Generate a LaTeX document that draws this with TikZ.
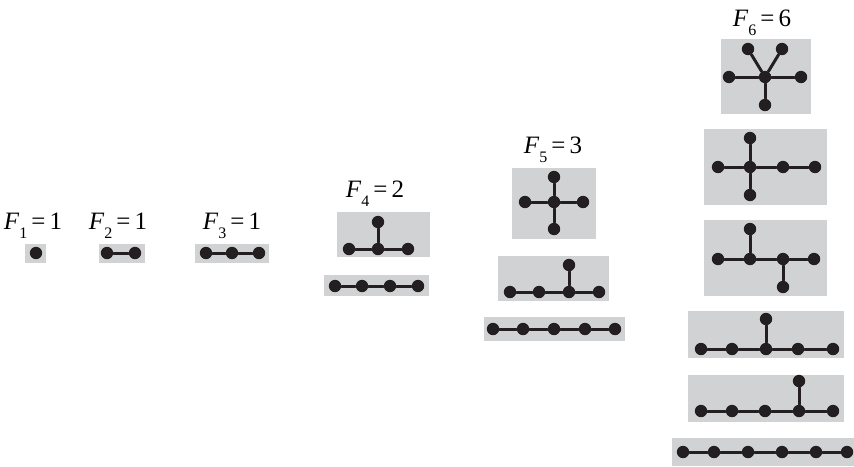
\documentclass[tikz,border=0pt]{standalone}
\usepackage{fontspec}
\setmainfont{Liberation Serif}
\definecolor{ink}{HTML}{231F20}
\definecolor{tilegray}{HTML}{D1D2D4}
\newcommand{\countlab}[2]{\textit{F}\raisebox{-0.8ex}{\fontsize{8}{8}\selectfont #1}\,=\,#2}

\begin{document}
\begin{tikzpicture}[
  x=0.5pt, y=-0.5pt,
  every path/.style={line cap=round},
  vtx/.style={circle, fill=ink, inner sep=0pt, minimum size=6.2pt},
  tile/.style={fill=tilegray},
  edge/.style={ink, line width=1.5pt},
  flab/.style={anchor=base, inner sep=0pt, font=\fontsize{12.5}{14}\selectfont},
]
\useasboundingbox (0,0) rectangle (854,466);

% ---------- labels ----------
\node[flab] (l1) at (33,229)  {\countlab{1}{1}};
\node[flab] (l2) at (118,229) {\countlab{2}{1}};
\node[flab] (l3) at (232,229) {\countlab{3}{1}};
\node[flab] (l4) at (375,197) {\countlab{4}{2}};
\node[flab] (l5) at (553,153) {\countlab{5}{3}};
\node[flab] (l6) at (762,26)  {\countlab{6}{6}};

% ---------- tiles ----------
\fill[tile] (25,244) rectangle (46,263);
\fill[tile] (99,244) rectangle (145,263);
\fill[tile] (195,244) rectangle (269,263);
\fill[tile] (337,212) rectangle (430,257);
\fill[tile] (324,275) rectangle (429,296);
\fill[tile] (512,168) rectangle (596,239);
\fill[tile] (498,256) rectangle (609,301);
\fill[tile] (484,317) rectangle (625,341);
\fill[tile] (721,39) rectangle (811,114);
\fill[tile] (704,129) rectangle (827,205);
\fill[tile] (704,220) rectangle (827,296);
\fill[tile] (688,311) rectangle (844,358);
\fill[tile] (688,375) rectangle (844,422);
\fill[tile] (672,438) rectangle (854,466);

% ---------- n = 1, 2, 3 ----------
\node[vtx] (v1a1) at (36,253) {};
\foreach \x [count=\i] in {107,135}
  \node[vtx] (v2a\i) at (\x,253) {};
\foreach \x [count=\i] in {206,232,259}
  \node[vtx] (v3a\i) at (\x,253) {};

% ---------- n = 4 ----------
\foreach \x [count=\i] in {349,378,408}
  \node[vtx] (v4a\i) at (\x,249) {};
\node[vtx] (v4a4) at (378,222) {};
\foreach \x [count=\i] in {335,362,390,418}
  \node[vtx] (v4b\i) at (\x,286) {};

% ---------- n = 5 ----------
\node[vtx] (v5a1) at (554,202) {};
\node[vtx] (v5a2) at (525,202) {};
\node[vtx] (v5a3) at (583,202) {};
\node[vtx] (v5a4) at (554,177) {};
\node[vtx] (v5a5) at (554,229) {};
\foreach \x [count=\i] in {510,539,569,599}
  \node[vtx] (v5b\i) at (\x,292) {};
\node[vtx] (v5b5) at (569,265) {};
\foreach \x [count=\i] in {493,523,554,585,615}
  \node[vtx] (v5c\i) at (\x,329) {};

% ---------- n = 6 ----------
\node[vtx] (v6a1) at (765,77) {};
\node[vtx] (v6a2) at (729,77) {};
\node[vtx] (v6a3) at (801,77) {};
\node[vtx] (v6a4) at (765,105) {};
\node[vtx] (v6a5) at (748,49) {};
\node[vtx] (v6a6) at (782,49) {};
\foreach \x [count=\i] in {718,750,783,815}
  \node[vtx] (v6b\i) at (\x,167) {};
\node[vtx] (v6b5) at (750,138) {};
\node[vtx] (v6b6) at (750,195) {};
\foreach \x [count=\i] in {718,750,783,814}
  \node[vtx] (v6c\i) at (\x,259) {};
\node[vtx] (v6c5) at (750,229) {};
\node[vtx] (v6c6) at (783,287) {};
\foreach \x [count=\i] in {701,732,766,798,833}
  \node[vtx] (v6d\i) at (\x,349) {};
\node[vtx] (v6d6) at (766,319) {};
\foreach \x [count=\i] in {701,732,765,799,833}
  \node[vtx] (v6e\i) at (\x,411) {};
\node[vtx] (v6e6) at (799,381) {};
\foreach \x [count=\i] in {683,714,748,782,816,847}
  \node[vtx] (v6f\i) at (\x,452) {};

% ---------- edges ----------
\foreach \a/\b in {v2a1/v2a2, v3a1/v3a2, v3a2/v3a3,
                   v4a1/v4a2, v4a2/v4a3, v4a2/v4a4,
                   v4b1/v4b2, v4b2/v4b3, v4b3/v4b4,
                   v5a1/v5a2, v5a1/v5a3, v5a1/v5a4, v5a1/v5a5,
                   v5b1/v5b2, v5b2/v5b3, v5b3/v5b4, v5b3/v5b5,
                   v5c1/v5c2, v5c2/v5c3, v5c3/v5c4, v5c4/v5c5,
                   v6a1/v6a2, v6a1/v6a3, v6a1/v6a4, v6a1/v6a5, v6a1/v6a6,
                   v6b1/v6b2, v6b2/v6b3, v6b3/v6b4, v6b2/v6b5, v6b2/v6b6,
                   v6c1/v6c2, v6c2/v6c3, v6c3/v6c4, v6c2/v6c5, v6c3/v6c6,
                   v6d1/v6d2, v6d2/v6d3, v6d3/v6d4, v6d4/v6d5, v6d3/v6d6,
                   v6e1/v6e2, v6e2/v6e3, v6e3/v6e4, v6e4/v6e5, v6e4/v6e6,
                   v6f1/v6f2, v6f2/v6f3, v6f3/v6f4, v6f4/v6f5, v6f5/v6f6}
  \draw[edge] (\a) -- (\b);

\end{tikzpicture}
\end{document}
